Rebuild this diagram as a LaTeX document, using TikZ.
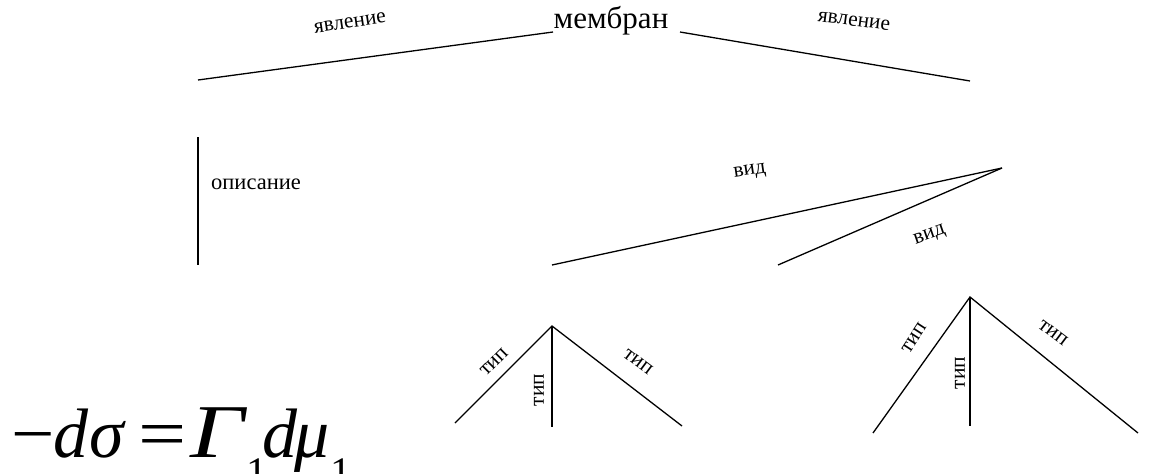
\documentclass[tikz,border=0pt]{standalone}
\usepackage{fontspec}
\setmainfont{Liberation Serif}
% place a piece of text at a fixed horizontal offset inside a line
\newcommand{\putat}[2]{\rlap{\hspace*{#1}#2}}
\newcommand{\lowsub}[1]{\raisebox{-29pt}{\fontsize{42}{44}\selectfont #1}}
\begin{document}
\begin{tikzpicture}[x=1pt,y=-1pt,
  link/.style={line width=1.3pt,black},
  lbl/.style={inner sep=0pt,font=\fontsize{21.5}{23}\selectfont},
  head/.style={inner sep=0pt,font=\fontsize{31}{33}\selectfont}]
\useasboundingbox (0,0) rectangle (1160,474);

% top concept and its two branches
\node[head,anchor=base] (mem) at (611,28) {мембран};
\coordinate (memL) at (553,32);
\coordinate (memR) at (680,32);
\coordinate (aL) at (198,80);
\coordinate (aR) at (970,81);
\draw[link] (aL) -- (memL);
\draw[link] (memR) -- (aR);
\node[lbl,rotate=8.5] (javl1) at (350,23) {явление};
\node[lbl,rotate=-7.5] (javl2) at (854,21) {явление};

% description branch
\coordinate (dTop) at (198,137);
\coordinate (dBot) at (198,265);
\draw[link] (dTop) -- (dBot);
\node[lbl,anchor=west,font=\fontsize{22.5}{24}\selectfont] (opis) at (211,184) {описание};

% kinds
\coordinate (vApex) at (1002,168);
\coordinate (v1) at (552,265);
\coordinate (v2) at (778,265);
\draw[link] (vApex) -- (v1);
\draw[link] (vApex) -- (v2);
\node[lbl,rotate=8.5] (vid1) at (750,172) {вид};
\node[lbl,rotate=19] (vid2) at (930,236) {вид};

% types, left group
\coordinate (t1A) at (552,326);
\coordinate (t1L) at (455,423);
\coordinate (t1M) at (552,427);
\coordinate (t1R) at (682,426);
\draw[link] (t1L) -- (t1A) -- (t1R);
\draw[link] (t1A) -- (t1M);
\node[lbl,rotate=45] (tip1) at (494,362) {тип};
\node[lbl,rotate=90] (tip2) at (539,390) {тип};
\node[lbl,rotate=-37] (tip3) at (638,362) {тип};

% types, right group
\coordinate (t2A) at (970,297);
\coordinate (t2L) at (873,433);
\coordinate (t2M) at (970,426);
\coordinate (t2R) at (1138,433);
\draw[link] (t2L) -- (t2A) -- (t2R);
\draw[link] (t2A) -- (t2M);
\node[lbl,rotate=57] (tip4) at (914,338) {тип};
\node[lbl,rotate=90] (tip5) at (960,373) {тип};
\node[lbl,rotate=-37] (tip6) at (1053,333) {тип};

% Gibbs adsorption equation
\node[anchor=base west,inner sep=0pt,font=\fontsize{70}{74}\selectfont] (eq) at (0,457)
  {\putat{11pt}{\scalebox{1.1}[1]{−}}\putat{53pt}{\textit{d}}\putat{89pt}{\textit{σ}}%
   \putat{138pt}{\scalebox{1.22}[1]{=}}%
   \putat{190pt}{\scalebox{1.25}[1]{\fontsize{76}{78}\selectfont\textit{Γ}}}\putat{246pt}{\lowsub{1}}%
   \putat{262pt}{\textit{d}}\putat{294pt}{\textit{μ}}\putat{330pt}{\lowsub{1}}%
   \hspace*{345pt}};
\end{tikzpicture}
\end{document}
